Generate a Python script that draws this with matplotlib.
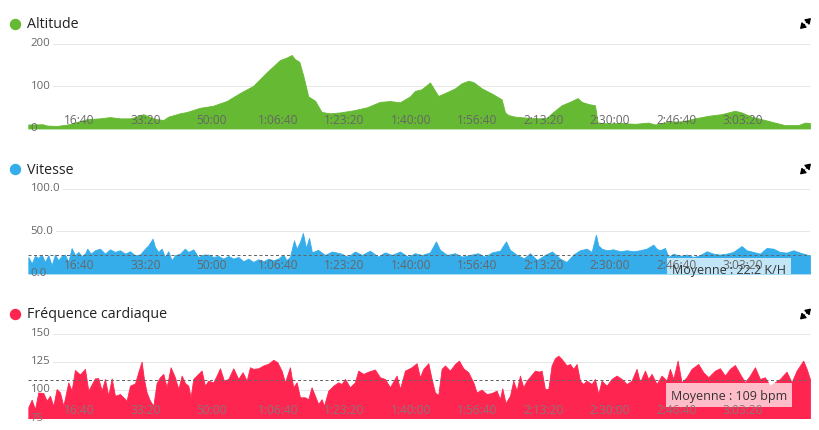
import matplotlib
matplotlib.use("Agg")
import matplotlib.pyplot as plt
from matplotlib.lines import Line2D
from matplotlib.patches import FancyArrowPatch

plt.rcParams['font.family'] = ['Open Sans', 'DejaVu Sans']

# ---------------- data (time in seconds) ----------------
alt_t = [236, 458, 514, 664, 815, 914, 1116, 1316, 1467, 1617, 1768, 1869, 1968,
         2119, 2270, 2345, 2521, 2622, 2822, 3022, 3224, 3425, 3625, 3827,
         4027, 4128, 4203, 4253, 4318, 4378, 4453, 4554, 4655, 4780, 4931,
         5131, 5333, 5533, 5684, 5834, 5985, 6060, 6161, 6286, 6411, 6512, 6663,
         6763, 6863, 6938, 7065, 7215, 7366, 7416, 7465, 7566, 7717, 7917,
         8044, 8119, 8269, 8420, 8510, 8571, 8670, 8771, 8812, 8971,
         9173, 9373, 9574, 9675, 9875, 10077, 10277, 10477, 10679, 10879, 10980,
         11131, 11281, 11432, 11632, 11833, 11934, 12009]
alt_v = [9.5, 10, 7, 6, 9, 13, 22, 24, 27, 24, 24, 28, 34,
         24, 20, 28, 36, 39, 49, 54, 65, 84, 101, 133,
         162, 168, 174, 164, 158, 125, 76, 66, 39, 36, 38,
         43, 50, 63, 65, 62, 76, 89, 93, 109, 77, 84, 95,
         107, 113, 110, 95, 83, 69, 38, 32, 28, 26, 24,
         25, 36, 55, 65, 72, 63, 58, 55, 14, 12,
         13, 11, 14, 9.5, 16, 17, 24, 30, 34, 42, 38,
         28, 22, 16, 8, 8, 14, 13]

spd_t = [237, 287, 337, 387, 438, 488, 538, 588, 638, 689,
         739, 789, 839, 889, 940, 990, 1040, 1090, 1125, 1175,
         1241, 1316, 1391, 1467, 1542, 1617, 1693, 1768, 1843, 1918,
         1994, 2044, 2109, 2144, 2195, 2245, 2295, 2345, 2395, 2446,
         2521, 2596, 2646, 2722, 2797, 2872, 2948, 3023, 3098, 3173,
         3249, 3324, 3399, 3475, 3550, 3625, 3701, 3776, 3851, 3926,
         4002, 4077, 4127, 4177, 4238, 4278, 4328,
         4373, 4419, 4464, 4509, 4599, 4705, 4810, 4931, 5051, 5156,
         5262, 5382, 5503, 5608, 5714, 5834, 5955, 6060, 6166, 6286,
         6376, 6437, 6542, 6663, 6768, 6889, 7009, 7115, 7220, 7341,
         7431, 7491, 7597, 7702, 7792, 7898, 8018, 8124, 8214,
         8244, 8344, 8445, 8545, 8646, 8721, 8786, 8821, 8872, 8947,
         9047, 9148, 9248, 9348, 9449, 9549, 9650, 9700, 9750, 9825,
         9876, 9951, 10051, 10152, 10252, 10352, 10453, 10553, 10654, 10754,
         10854, 10980, 11055, 11156, 11256, 11356, 11457, 11557, 11657, 11758,
         11858, 11959, 12009]
spd_v = [19.6, 11.8, 20.8, 18.4, 22.4, 13.7, 21.6, 9.8, 22.4, 15.7,
         20.8, 22.4, 13.7, 30, 21.6, 25.5, 20.8, 23.5, 29.4, 23.5,
         27.5, 29.4, 23.5, 28.6, 25.5, 27.5, 23.5, 26.3, 21.6, 22.4,
         29.4, 33.3, 41.2, 31.4, 25.5, 29.4, 19.6, 26.3, 15.7, 21.6,
         23.5, 29.4, 25.5, 28.6, 19.6, 22.4, 22.4, 19.6, 20.8, 17.6,
         20.8, 17.6, 19.6, 14.5, 17.6, 13.7, 16.9, 14.5, 17.6, 15.7,
         17.6, 22.4, 15.7, 19.6, 39.2, 29.4, 37.3,
         48, 30, 42, 25, 28, 22, 26, 24, 20, 26,
         22, 27, 20, 25, 22, 26, 20, 24, 22, 25,
         38, 28, 22, 24, 20, 22, 24, 20, 25, 27,
         38, 28, 22, 18, 24, 16, 22, 26, 20,
         17.6, 13.7, 22.4, 27.5, 29.4, 25.5, 45.9, 33.3, 29.4, 27.5,
         28.6, 26.3, 27.5, 26.3, 27.5, 29.4, 34.1, 29.4, 27.5, 30.2,
         19.6, 23.5, 20.8, 22.4, 19.6, 21.6, 26.3, 23.5, 22.4, 23.5,
         25.5, 32.5, 27.5, 25.5, 23.5, 30.2, 29.4, 25.5, 24.7, 27.5,
         24.7, 22.4, 21.6]

hr_t = [237, 287, 337, 387, 462, 513, 563, 613, 663, 714,
        764, 839, 889, 939, 1015, 1090, 1140, 1241, 1291, 1341,
        1391, 1441, 1492, 1542, 1617, 1667, 1717, 1768, 1843, 1893,
        1943, 1978, 2019, 2069, 2119, 2169, 2219, 2270, 2320, 2380,
        2445, 2496, 2546, 2596, 2646, 2681, 2721, 2797, 2847, 2897,
        2947, 3023, 3073, 3123, 3183, 3249, 3324, 3399, 3464, 3525,
        3575, 3625, 3700, 3776, 3851, 3926, 3986, 4052, 4102, 4177,
        4227, 4278, 4328, 4403, 4453, 4503, 4554, 4604, 4654, 4689,
        4755, 4830, 4905, 4955, 5006, 5081, 5156, 5206, 5282, 5357,
        5457, 5533, 5608, 5683, 5784, 5834, 5909, 6010, 6085,
        6135, 6186, 6261, 6311, 6361, 6411, 6462, 6512, 6587, 6662,
        6723, 6788, 6863, 6939, 6989, 7064, 7139, 7215, 7290, 7340,
        7375, 7425, 7491, 7541, 7591, 7641, 7692, 7742, 7807, 7867,
        7927, 7968, 8018, 8068, 8118, 8168, 8219, 8269, 8344, 8394,
        8445, 8495, 8545, 8595, 8645, 8721, 8771, 8821, 8871, 8947,
        9022, 9097, 9172, 9248, 9323, 9398, 9448, 9524, 9574, 9624,
        9700, 9775, 9850, 9900, 9951, 10016, 10076, 10151, 10227, 10327,
        10402, 10478, 10578, 10653, 10729, 10804, 10879, 10955, 11030, 11105,
        11180, 11256, 11331, 11406, 11482, 11557, 11657, 11733, 11808, 11908,
        11959, 12009]
hr_v = [84.8, 91.6, 83, 98, 97.5, 90.7, 95, 86, 101, 98,
        86, 107, 99.6, 118, 114, 119, 99.6, 110.6, 110.6, 99.6,
        110, 95, 110.6, 95, 96.6, 93.7, 90.7, 104, 106, 116,
        125.4, 110, 98, 90.7, 86, 106.4, 111.5, 114.5, 102.6, 120.4,
        111.5, 101, 113, 106.4, 104, 93.7, 110, 114.5, 117.4, 104,
        108.5, 107, 113, 119.5, 108.5, 110, 119.5, 110, 116, 108.5,
        120.4, 119, 119.5, 122, 123.5, 127, 125, 117.4, 107, 120.4,
        102.6, 107, 93.7, 93.7, 92, 102.6, 95, 87.7, 92, 86,
        99.6, 104, 107, 105.5, 110, 102.6, 107, 117.4, 114.5, 116.5,
        118.4, 111.5, 110, 102.6, 113, 101, 117.4, 120.4, 124,
        111.5, 119, 124, 110, 98, 95.7, 119, 122, 117.4, 123.3,
        126.3, 119.5, 116, 107, 98, 100.5, 96.6, 97.5, 99.6, 92,
        101.7, 88.6, 95, 108.5, 99.6, 113, 102.6, 108.5, 113, 117.4,
        116.5, 117.4, 101, 101, 122, 128.4, 130.7, 127.8, 122, 123.3,
        119, 123.3, 108.5, 105.5, 108.5, 105.5, 110, 96.6, 108.5, 104,
        110, 113, 110, 105.5, 108.5, 119, 107, 117.4, 110, 114.5,
        105.5, 113, 108.5, 119, 110, 126.3, 107, 111.5, 119, 123.3,
        116, 111.5, 117.4, 119.5, 113, 119, 122.4, 114.5, 107, 113,
        120.4, 110, 111.5, 104, 107, 110, 116.5, 107, 117.4, 126.3,
        119, 110]

spd_mean = 22.2
hr_mean = 109

tick_seconds = [1000, 2000, 3000, 4000, 5000, 6000, 7000, 8000, 9000, 10000, 11000]
tick_labels = ['16:40', '33:20', '50:00', '1:06:40', '1:23:20', '1:40:00',
               '1:56:40', '2:13:20', '2:30:00', '2:46:40', '3:03:20']

# ---------------- styling ----------------
W, H = 820, 431
PX = 0.72  # points per pixel at dpi 100
fig = plt.figure(figsize=(W / 100, H / 100), dpi=100)
fig.patch.set_facecolor('white')

AX_L, AX_R = 28, 810
XMIN, XMAX = 232, 12010

panels = [
    dict(title='Altitude', color='#66b933', t=alt_t, v=alt_v, ylim=(0, 200),
         yticks=[0, 100, 200], ylabels=['0', '100', '200'],
         top=45, bottom=129.5, title_y=24.5, mean=None, tick_color='#666666'),
    dict(title='Vitesse', color='#35adea', t=spd_t, v=spd_v, ylim=(0, 100),
         yticks=[0, 50, 100], ylabels=['0.0', '50.0', '100.0'],
         top=190, bottom=274.5, title_y=170, mean=spd_mean,
         mean_text='Moyenne : {} K/H'.format(spd_mean), tick_color='#666666'),
    dict(title='Fréquence cardiaque', color='#ff2551', t=hr_t, v=hr_v, ylim=(75, 150),
         yticks=[75, 100, 125, 150], ylabels=['75', '100', '125', '150'],
         top=335, bottom=419.3, title_y=315, mean=hr_mean,
         mean_text='Moyenne : {} bpm'.format(hr_mean), tick_color='#8a7478'),
]

grid_jobs = []
for p in panels:
    ax = fig.add_axes([AX_L / W, 1 - p['bottom'] / H, (AX_R - AX_L) / W,
                       (p['bottom'] - p['top']) / H])
    ax.set_axis_off()
    ax.set_xlim(XMIN, XMAX)
    ax.set_ylim(*p['ylim'])
    ax.fill_between(p['t'], 0, p['v'], color=p['color'], lw=0.6,
                    edgecolor=p['color'], zorder=2)

    # y labels (inside left)
    for val, lab in zip(p['yticks'], p['ylabels']):
        col = '#666666' if val != p['ylim'][0] else p['tick_color']
        txt = ax.annotate(lab, xy=(0, val), xycoords=('axes fraction', 'data'),
                          xytext=(2.5 * PX, 1.2 * PX), textcoords='offset points',
                          ha='left', va='center', fontsize=8.2, color=col,
                          zorder=5)
        if val != p['ylim'][0]:
            grid_jobs.append((ax, val, txt))

    # x tick labels (inside bottom)
    for s, lab in zip(tick_seconds, tick_labels):
        ax.annotate(lab, xy=(s, 0), xycoords=('data', 'axes fraction'),
                    xytext=(0, 8.5 * PX), textcoords='offset points',
                    ha='center', va='center', fontsize=8.6, color=p['tick_color'],
                    zorder=5)

    # mean line and label
    if p['mean'] is not None:
        ax.axhline(p['mean'], color='#666666', lw=PX, ls=(0, (3, 2.5)), zorder=3)
        ax.annotate(p['mean_text'], xy=(0.8965, p['mean']),
                    xycoords=('axes fraction', 'data'),
                    xytext=(0, -15 * PX), textcoords='offset points',
                    ha='center', va='center', fontsize=9, color='none',
                    bbox=dict(boxstyle='square,pad=0.42', fc='white', ec='none',
                              alpha=0.7),
                    clip_on=True, annotation_clip=False, zorder=4)
        ax.annotate(p['mean_text'], xy=(0.8965, p['mean']),
                    xycoords=('axes fraction', 'data'),
                    xytext=(0, -15 * PX), textcoords='offset points',
                    ha='center', va='center', fontsize=9, color='#333333',
                    annotation_clip=False, zorder=6)

    # title with coloured dot
    fy = 1 - p['title_y'] / H
    fig.add_artist(Line2D([15 / W], [fy], marker='o', markersize=10 * PX,
                          color=p['color'], transform=fig.transFigure))
    fig.text(27 / W, fy, p['title'], ha='left', va='center', fontsize=10.3,
             color='#222222')

    # expand icon
    cx, cy = 805.5, p['title_y']
    for (x0, y0, x1, y1) in [(cx + 1.0, cy - 1.0, cx + 5.5, cy - 5.5),
                             (cx - 1.0, cy + 1.0, cx - 5.5, cy + 5.5)]:
        fig.add_artist(FancyArrowPatch((x0 / W, 1 - y0 / H), (x1 / W, 1 - y1 / H),
                                       arrowstyle='-|>,head_length=3.0,head_width=2.0',
                                       mutation_scale=1, lw=1.1, color='black',
                                       shrinkA=0, shrinkB=0,
                                       transform=fig.transFigure))

# gridlines starting after their labels
fig.canvas.draw()
renderer = fig.canvas.get_renderer()
for ax, val, txt in grid_jobs:
    bb = txt.get_window_extent(renderer)
    axbb = ax.get_window_extent(renderer)
    xmin = (bb.x1 + 3 - axbb.x0) / axbb.width
    ax.axhline(val, xmin=xmin, xmax=1, color='#e6e6e6', lw=PX, zorder=1)

fig.savefig('out.png', dpi=100, facecolor='white')
